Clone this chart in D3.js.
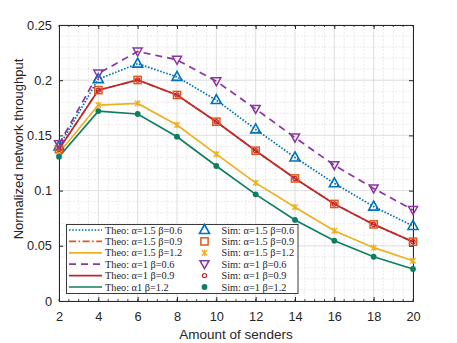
<!DOCTYPE html>
<html><head><meta charset="utf-8">
<script src="https://cdn.jsdelivr.net/npm/d3@7"></script>
<style>body{margin:0;background:#fff}svg{display:block}</style>
</head><body>
<script>
const senders = [2,4,6,8,10,12,14,16,18,20];
const xTicks = [2,4,6,8,10,12,14,16,18,20];
const yTicks = [0,0.05,0.1,0.15,0.2,0.25];
const yTickLabels = ["0","0.05","0.1","0.15","0.2","0.25"];
const a15b06 = [0.140,0.201,0.215,0.203,0.182,0.1555,0.130,0.1066,0.0855,0.068];
const a15b09 = [0.1375,0.191,0.2002,0.1866,0.1624,0.1361,0.111,0.0879,0.0694,0.0537];
const a15b12 = [0.134,0.1775,0.179,0.1594,0.133,0.107,0.085,0.0637,0.0483,0.0365];
const a1b06  = [0.142,0.206,0.226,0.2185,0.199,0.174,0.148,0.123,0.102,0.0824];
const a1b09  = [0.1375,0.191,0.2002,0.1866,0.1624,0.1361,0.111,0.0879,0.0694,0.0537];
const a1b12  = [0.1307,0.172,0.1694,0.1488,0.1223,0.0966,0.0734,0.0546,0.0401,0.029];
const theoLabels = ["Theo: α=1.5 β=0.6","Theo: α=1.5 β=0.9","Theo: α=1.5 β=1.2","Theo: α=1 β=0.6","Theo: α=1 β=0.9","Theo: α1 β=1.2"];
const simLabels = ["Sim: α=1.5 β=0.6","Sim: α=1.5 β=0.9","Sim: α=1.5 β=1.2","Sim: α=1 β=0.6","Sim: α=1 β=0.9","Sim: α=1 β=1.2"];

const W=457,H=343, L=59,R=413,T=25,B=301;
const svg=d3.select("body").append("svg").attr("width",W).attr("height",H);
const x=d3.scaleLinear().domain([2,20]).range([L,R]);
const y=d3.scaleLinear().domain([0,0.25]).range([B,T]);

// grids
const g=svg.append("g");
const xMinor=d3.range(2,20.01,0.5), yMinor=d3.range(0,0.2501,0.01);
g.selectAll(".xm").data(xMinor).enter().append("line")
 .attr("x1",d=>x(d)).attr("x2",d=>x(d)).attr("y1",T).attr("y2",B)
 .attr("stroke","#e4e4e4").attr("stroke-width",0.8).attr("stroke-dasharray","2,1.5");
g.selectAll(".ym").data(yMinor).enter().append("line")
 .attr("y1",d=>y(d)).attr("y2",d=>y(d)).attr("x1",L).attr("x2",R)
 .attr("stroke","#e4e4e4").attr("stroke-width",0.8).attr("stroke-dasharray","2,1.5");
g.selectAll(".xg").data(xTicks).enter().append("line")
 .attr("x1",d=>x(d)).attr("x2",d=>x(d)).attr("y1",T).attr("y2",B)
 .attr("stroke","#dcdcdc").attr("stroke-width",0.8);
g.selectAll(".yg").data(yTicks).enter().append("line")
 .attr("y1",d=>y(d)).attr("y2",d=>y(d)).attr("x1",L).attr("x2",R)
 .attr("stroke","#dcdcdc").attr("stroke-width",0.8);

// axes
const font="'Liberation Sans',Arial,sans-serif";
const ax=svg.append("g").attr("transform",`translate(0,${B})`)
 .call(d3.axisBottom(x).tickValues(xTicks).tickSize(-4).tickPadding(11));
const ay=svg.append("g").attr("transform",`translate(${L},0)`)
 .call(d3.axisLeft(y).tickValues(yTicks).tickFormat((d,i)=>yTickLabels[i]).tickSize(-4).tickPadding(7));
const at=svg.append("g").attr("transform",`translate(0,${T})`)
 .call(d3.axisTop(x).tickValues(xTicks).tickSize(-4).tickFormat(""));
const ar=svg.append("g").attr("transform",`translate(${R},0)`)
 .call(d3.axisRight(y).tickValues(yTicks).tickSize(-4).tickFormat(""));
[ax,ay,at,ar].forEach(a=>{a.select(".domain").attr("stroke","#262626").attr("stroke-width",1);
 a.selectAll(".tick line").attr("stroke","#262626");
 a.selectAll("text").attr("font-family",font).attr("font-size",12.8).attr("fill","#262626");});
// minor ticks
const mt=svg.append("g").attr("stroke","#262626").attr("stroke-width",0.8);
xMinor.forEach(v=>{mt.append("line").attr("x1",x(v)).attr("x2",x(v)).attr("y1",B).attr("y2",B-2);
 mt.append("line").attr("x1",x(v)).attr("x2",x(v)).attr("y1",T).attr("y2",T+2);});

// axis labels
svg.append("text").attr("x",(L+R)/2).attr("y",339).attr("text-anchor","middle")
 .attr("font-family",font).attr("font-size",13.5).attr("fill","#262626").text("Amount of senders");
svg.append("text").attr("transform",`translate(23,149) rotate(-90)`).attr("text-anchor","middle")
 .attr("font-family",font).attr("font-size",13).attr("fill","#262626").text("Normalized network throughput");

// series
const cols={blue:"#0072BD",orange:"#E0581A",yellow:"#EDB120",purple:"#8B36A0",red:"#C0272D",green:"#0E7E62"};
const series=[
 {d:a15b06,c:cols.blue,dash:"1.6,1.6",m:"tri"},
 {d:a15b09,c:cols.orange,dash:"7,2.5,1.6,2.5",m:"sq"},
 {d:a15b12,c:cols.yellow,dash:null,m:"ast"},
 {d:a1b06,c:cols.purple,dash:"7,5",m:"dtri"},
 {d:a1b09,c:cols.red,dash:null,m:"circ"},
 {d:a1b12,c:cols.green,dash:null,m:"dot"}
];
const line=d3.line().x((d,i)=>x(senders[i])).y(d=>y(d));
series.forEach(s=>{
 svg.append("path").attr("d",line(s.d)).attr("fill","none").attr("stroke",s.c)
  .attr("stroke-width",1.7).attr("stroke-dasharray",s.dash);
});
function marker(gr,type,cx,cy,c){
 if(type==="tri"){gr.append("path").attr("d",`M${cx},${cy-5.5}L${cx+5},${cy+3.5}L${cx-5},${cy+3.5}Z`)
   .attr("fill","none").attr("stroke",c).attr("stroke-width",1.6);}
 else if(type==="dtri"){gr.append("path").attr("d",`M${cx},${cy+4.5}L${cx+4.5},${cy-3.5}L${cx-4.5},${cy-3.5}Z`)
   .attr("fill","none").attr("stroke",c).attr("stroke-width",1.5);}
 else if(type==="sq"){gr.append("rect").attr("x",cx-3.6).attr("y",cy-3.6).attr("width",7.2).attr("height",7.2)
   .attr("fill","none").attr("stroke",c).attr("stroke-width",1.5);}
 else if(type==="circ"){gr.append("circle").attr("cx",cx).attr("cy",cy).attr("r",2.1)
   .attr("fill","none").attr("stroke",c).attr("stroke-width",1.2);}
 else if(type==="dot"){gr.append("circle").attr("cx",cx).attr("cy",cy).attr("r",2.9).attr("fill",c);}
 else if(type==="ast"){const r=2.7;
   gr.append("path").attr("d",`M${cx-r},${cy-r}L${cx+r},${cy+r}M${cx-r},${cy+r}L${cx+r},${cy-r}M${cx},${cy-r*1.2}L${cx},${cy+r*1.2}`)
   .attr("stroke",c).attr("stroke-width",1.4);}
}
series.forEach(s=>{
 const gr=svg.append("g");
 s.d.forEach((v,i)=>marker(gr,s.m,x(senders[i]),y(v),s.c));
});

// legend
const lg=svg.append("g");
lg.append("rect").attr("x",66.5).attr("y",224.5).attr("width",231.5).attr("height",69)
 .attr("fill","#fff").attr("stroke","#262626").attr("stroke-width",0.9);
const serif="'Liberation Serif','DejaVu Serif',serif";
series.forEach((s,i)=>{
 const yy=230+i*11.4;
 lg.append("line").attr("x1",69).attr("x2",102).attr("y1",yy).attr("y2",yy)
  .attr("stroke",s.c).attr("stroke-width",1.7).attr("stroke-dasharray",s.dash);
 lg.append("text").attr("x",105).attr("y",yy+3.5).attr("font-family",serif).attr("font-size",10.3)
  .attr("fill","#262626").text(theoLabels[i]);
 marker(lg,s.m,204.5,yy,s.c);
 lg.append("text").attr("x",221.5).attr("y",yy+3.5).attr("font-family",serif).attr("font-size",10.3)
  .attr("fill","#262626").text(simLabels[i]);
});
</script>
</body></html>
